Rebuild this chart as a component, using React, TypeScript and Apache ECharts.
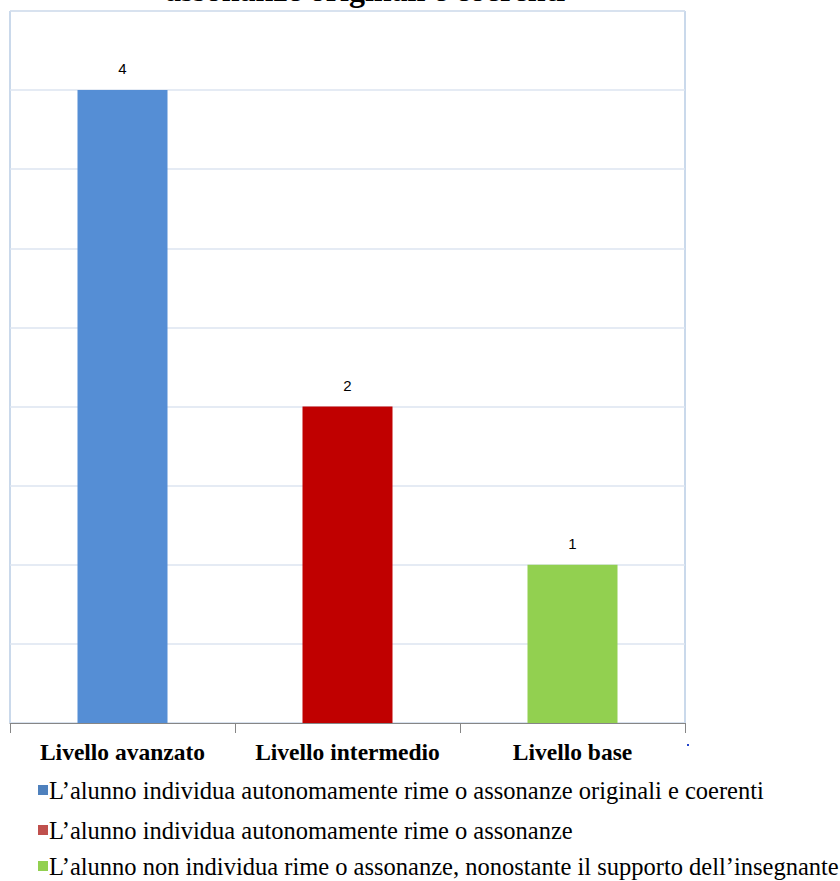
import React, { useEffect, useRef } from "react";
import * as echarts from "echarts";

const categories = ["Livello avanzato", "Livello intermedio", "Livello base"];
const seriesNames = [
  "L\u2019alunno individua autonomamente rime o assonanze originali e coerenti",
  "L\u2019alunno individua autonomamente rime o assonanze",
  "L\u2019alunno non individua rime o assonanze, nonostante il supporto dell\u2019insegnante",
];
const values = [4, 2, 1];
const colors = ["#558ED5", "#C00000", "#92D050"];
const legendColors = ["#4F81BD", "#C0504D", "#92D050"];
const titleText = "assonanze originali e coerenti";

const SERIF = "Liberation Serif, Times New Roman, serif";

export default function App() {
  const ref = useRef<HTMLDivElement>(null);
  useEffect(() => {
    if (!ref.current) return;
    const chart = echarts.init(ref.current, null, { renderer: "svg" });
    const series = seriesNames.map((name, i) => ({
      name,
      type: "bar",
      stack: "all",
      barWidth: 90,
      data: categories.map((_, j) => (j === i ? values[i] : "-")),
      itemStyle: { color: colors[i] },
      label: {
        show: true,
        position: "top",
        distance: 14,
        color: "#000",
        fontFamily: "Liberation Sans, Arial, sans-serif",
        fontSize: 15,
      },
    }));
    const legendCenters = [790, 830, 866];
    const legends = seriesNames.map((name, i) => ({
      orient: "vertical",
      left: 33,
      top: legendCenters[i] - 18,
      itemWidth: 10,
      itemHeight: 10,
      itemGap: 0,
      icon: "rect",
      data: [{ name, itemStyle: { color: legendColors[i] } }],
      textStyle: {
        fontFamily: SERIF,
        fontSize: 24.5,
        lineHeight: 26,
        color: "#000",
        padding: [0, 0, 0, -4],
      },
    }));
    chart.setOption({
      animation: false,
      backgroundColor: "#fff",
      grid: {
        left: 10,
        right: 155,
        top: 11,
        bottom: 158,
        show: true,
        borderColor: "#95B3D7",
        borderWidth: 1,
      },
      graphic: [
        {
          type: "text",
          x: 365,
          y: 6,
          style: {
            text: titleText,
            font: "bold 32px Liberation Serif, Times New Roman, serif",
            fill: "#000",
            align: "center",
            verticalAlign: "bottom",
          },
        },
        {
          type: "rect",
          shape: { x: 687, y: 744, width: 2, height: 2 },
          style: { fill: "#2244cc" },
        },
      ],
      legend: legends,
      xAxis: {
        type: "category",
        data: categories,
        axisLine: { show: true, lineStyle: { color: "#868686", width: 1 } },
        axisTick: { show: true, length: 10, lineStyle: { color: "#868686" } },
        axisLabel: {
          interval: 0,
          hideOverlap: false,
          margin: 17,
          color: "#000",
          fontFamily: SERIF,
          fontWeight: "bold",
          fontSize: 23.5,
        },
      },
      yAxis: {
        type: "value",
        min: 0,
        max: 4.5,
        interval: 0.5,
        axisLabel: { show: false },
        axisLine: { show: false },
        axisTick: { show: false },
        splitLine: { show: true, lineStyle: { color: "#DCE4F0", width: 1.5 } },
      },
      series,
    });
    return () => chart.dispose();
  }, []);
  return (
    <div
      ref={ref}
      style={{ position: "fixed", left: 0, top: 0, width: 840, height: 881 }}
    />
  );
}
